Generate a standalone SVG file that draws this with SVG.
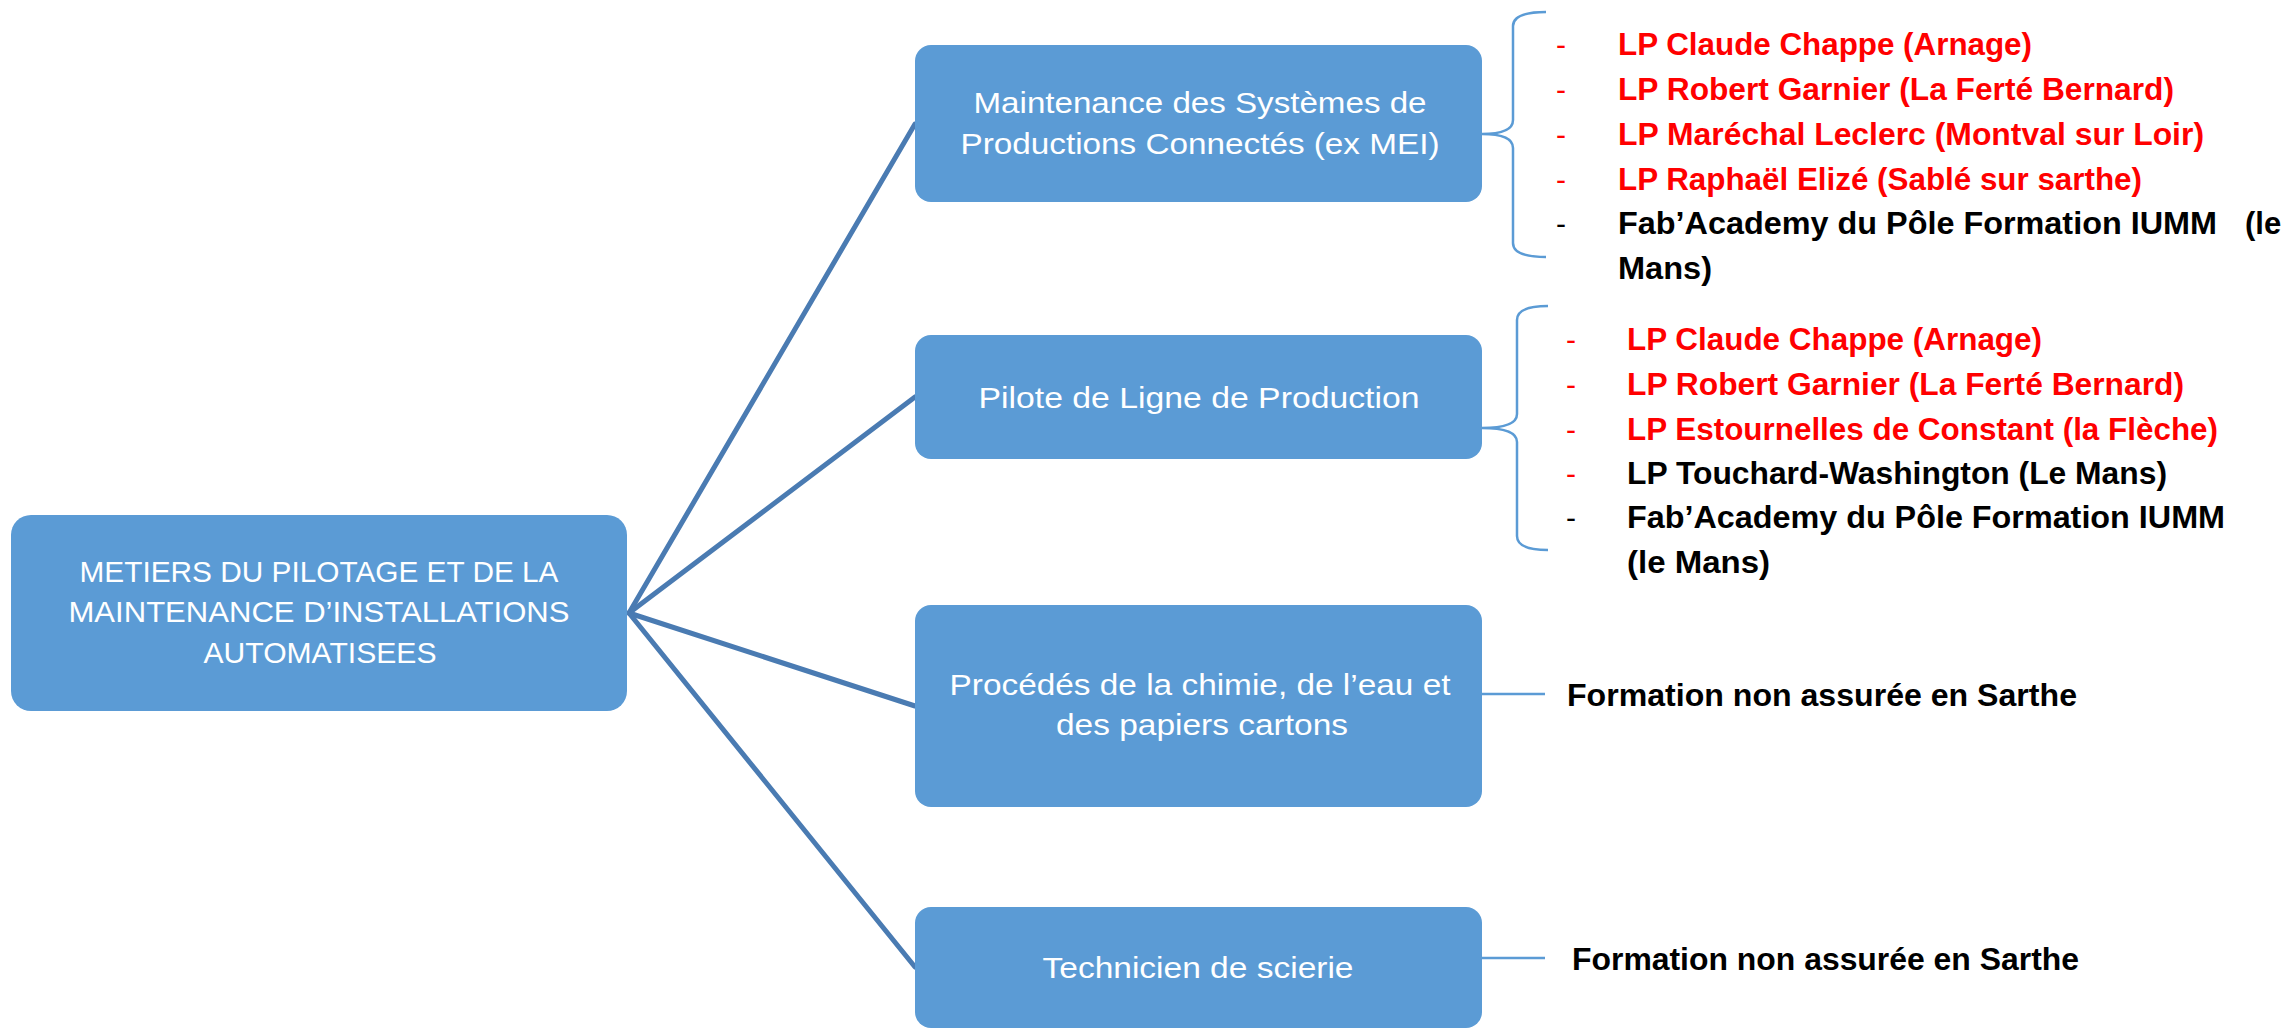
<svg xmlns="http://www.w3.org/2000/svg" width="2285" height="1029" viewBox="0 0 2285 1029">
<style>
.box{fill:#5B9BD5;}
.bt{font-family:"Liberation Sans",Arial,sans-serif;font-size:30px;fill:#FFFFFF;text-anchor:middle;}
.conn{stroke:#4A7BB2;stroke-width:5;fill:none;stroke-linecap:round;}
.brace{stroke:#5B9BD5;stroke-width:2.5;fill:none;}
.li{font-family:"Liberation Sans",Arial,sans-serif;font-size:31px;font-weight:bold;}
.dash{font-family:"Liberation Sans",Arial,sans-serif;font-size:30px;}
.red{fill:#FF0000;}
.blk{fill:#000000;}
</style>
<rect width="2285" height="1029" fill="#FFFFFF"/>
<g id="connectors">
<path class="conn" d="M629,613 L915,124"/>
<path class="conn" d="M629,613 L915,397"/>
<path class="conn" d="M629,613 L915,706"/>
<path class="conn" d="M629,613 L915,967"/>
<path class="brace" d="M1546,12 Q1513,12 1513,26 V120 Q1513,134 1482,134 Q1513,134 1513,148 V243 Q1513,257 1546,257"/>
<path class="brace" d="M1548,306 Q1517,306 1517,320 V414 Q1517,428 1482,428 Q1517,428 1517,442 V536 Q1517,550 1548,550"/>
<path class="brace" d="M1482,694 H1545"/>
<path class="brace" d="M1482,958 H1545"/>
</g>
<g id="root">
<rect class="box" x="11" y="515" width="616" height="196" rx="20"/>
<text class="bt" x="319" y="582" textLength="479" lengthAdjust="spacingAndGlyphs">METIERS DU PILOTAGE ET DE LA</text>
<text class="bt" x="319" y="622" textLength="501" lengthAdjust="spacingAndGlyphs">MAINTENANCE D’INSTALLATIONS</text>
<text class="bt" x="320" y="663" textLength="233" lengthAdjust="spacingAndGlyphs">AUTOMATISEES</text>
</g>
<g id="msp">
<rect class="box" x="915" y="45" width="567" height="157" rx="16"/>
<text class="bt" x="1200" y="113" textLength="453" lengthAdjust="spacingAndGlyphs">Maintenance des Systèmes de</text>
<text class="bt" x="1200" y="154" textLength="479" lengthAdjust="spacingAndGlyphs">Productions Connectés (ex MEI)</text>
</g>
<g id="plp">
<rect class="box" x="915" y="335" width="567" height="124" rx="16"/>
<text class="bt" x="1199" y="408" textLength="441" lengthAdjust="spacingAndGlyphs">Pilote de Ligne de Production</text>
</g>
<g id="pce">
<rect class="box" x="915" y="605" width="567" height="202" rx="16"/>
<text class="bt" x="1200" y="695" textLength="501" lengthAdjust="spacingAndGlyphs">Procédés de la chimie, de l’eau et</text>
<text class="bt" x="1202" y="735" textLength="292" lengthAdjust="spacingAndGlyphs">des papiers cartons</text>
</g>
<g id="ts">
<rect class="box" x="915" y="907" width="567" height="121" rx="16"/>
<text class="bt" x="1198" y="978" textLength="311" lengthAdjust="spacingAndGlyphs">Technicien de scierie</text>
</g>
<g id="list1">
<text class="dash red" x="1556" y="55">-</text>
<text class="li red" x="1618" y="55" textLength="414" lengthAdjust="spacingAndGlyphs">LP Claude Chappe (Arnage)</text>
<text class="dash red" x="1556" y="100">-</text>
<text class="li red" x="1618" y="100" textLength="556" lengthAdjust="spacingAndGlyphs">LP Robert Garnier (La Ferté Bernard)</text>
<text class="dash red" x="1556" y="145">-</text>
<text class="li red" x="1618" y="145" textLength="586" lengthAdjust="spacingAndGlyphs">LP Maréchal Leclerc (Montval sur Loir)</text>
<text class="dash red" x="1556" y="190">-</text>
<text class="li red" x="1618" y="190" textLength="524" lengthAdjust="spacingAndGlyphs">LP Raphaël Elizé (Sablé sur sarthe)</text>
<text class="dash blk" x="1556" y="234">-</text>
<text class="li blk" x="1618" y="234" textLength="599" lengthAdjust="spacingAndGlyphs">Fab’Academy du Pôle Formation IUMM</text>
<text class="li blk" x="2245" y="234">(le</text>
<text class="li blk" x="1618" y="279" textLength="94" lengthAdjust="spacingAndGlyphs">Mans)</text>
</g>
<g id="list2">
<text class="dash red" x="1566" y="350">-</text>
<text class="li red" x="1627" y="350" textLength="415" lengthAdjust="spacingAndGlyphs">LP Claude Chappe (Arnage)</text>
<text class="dash red" x="1566" y="395">-</text>
<text class="li red" x="1627" y="395" textLength="557" lengthAdjust="spacingAndGlyphs">LP Robert Garnier (La Ferté Bernard)</text>
<text class="dash red" x="1566" y="440">-</text>
<text class="li red" x="1627" y="440" textLength="591" lengthAdjust="spacingAndGlyphs">LP Estournelles de Constant (la Flèche)</text>
<text class="dash red" x="1566" y="484">-</text>
<text class="li blk" x="1627" y="484" textLength="540" lengthAdjust="spacingAndGlyphs">LP Touchard-Washington (Le Mans)</text>
<text class="dash blk" x="1566" y="528">-</text>
<text class="li blk" x="1627" y="528" textLength="598" lengthAdjust="spacingAndGlyphs">Fab’Academy du Pôle Formation IUMM</text>
<text class="li blk" x="1627" y="573" textLength="143" lengthAdjust="spacingAndGlyphs">(le Mans)</text>
</g>
<g id="na1">
<text class="li blk" x="1567" y="706" textLength="510" lengthAdjust="spacingAndGlyphs">Formation non assurée en Sarthe</text>
</g>
<g id="na2">
<text class="li blk" x="1572" y="970" textLength="507" lengthAdjust="spacingAndGlyphs">Formation non assurée en Sarthe</text>
</g>
</svg>
